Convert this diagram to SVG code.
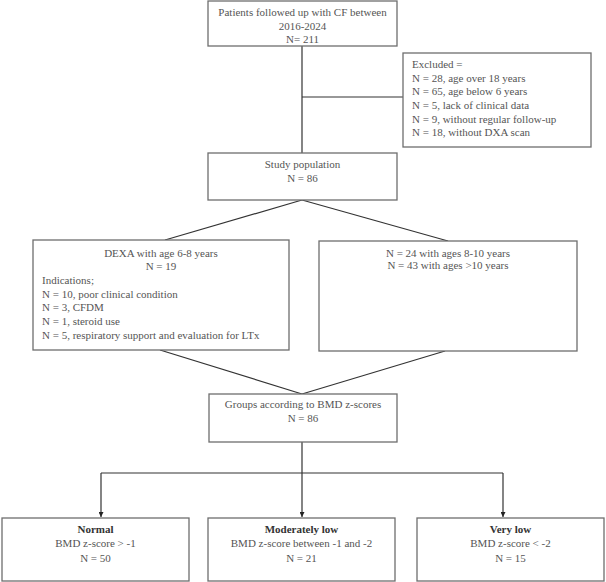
<svg xmlns="http://www.w3.org/2000/svg" width="606" height="582" viewBox="0 0 606 582">
<style>
.box{fill:#fff;stroke:#6e6e6e;stroke-width:1.3}
.t{font-family:"Liberation Serif","Times New Roman",serif;font-size:11px;fill:#555}
.c{text-anchor:middle}
.b{font-weight:bold;fill:#333}
.ln{fill:none;stroke:#333;stroke-width:1.2}
</style>
<defs>
<marker id="ah" viewBox="0 0 10 10" refX="10" refY="5" markerWidth="5" markerHeight="5" markerUnits="userSpaceOnUse" orient="auto">
<path d="M0,0 L10,5 L0,10 z" fill="#222"/>
</marker>
</defs>
<rect width="606" height="582" fill="#fff"/>
<g id="connectors">
<line class="ln" x1="302" y1="46" x2="302" y2="153"/>
<line class="ln" x1="302" y1="97" x2="403" y2="97"/>
<line class="ln" x1="302" y1="200" x2="165" y2="240"/>
<line class="ln" x1="302" y1="200" x2="448" y2="241"/>
<line class="ln" x1="160" y1="350" x2="302" y2="394"/>
<line class="ln" x1="445" y1="351" x2="302" y2="394"/>
<line class="ln" x1="302" y1="442" x2="302" y2="473"/>
<line class="ln" x1="101" y1="473" x2="503" y2="473"/>
<line class="ln" x1="101" y1="473" x2="101" y2="517" marker-end="url(#ah)"/>
<line class="ln" x1="302" y1="473" x2="302" y2="517" marker-end="url(#ah)"/>
<line class="ln" x1="503" y1="473" x2="503" y2="517" marker-end="url(#ah)"/>
</g>
<g id="n-patients">
<rect class="box" x="208" y="1" width="189" height="45"/>
<text class="t c" x="302.5" y="16">Patients followed up with CF between</text>
<text class="t c" x="302.5" y="30">2016-2024</text>
<text class="t c" x="302.5" y="43">N= 211</text>
</g>
<g id="n-excluded">
<rect class="box" x="403" y="53" width="188" height="94"/>
<text class="t" x="412" y="68">Excluded =</text>
<text class="t" x="412" y="81.5">N = 28, age over 18 years</text>
<text class="t" x="412" y="95">N = 65, age below 6 years</text>
<text class="t" x="412" y="109">N = 5, lack of clinical data</text>
<text class="t" x="412" y="123">N = 9, without regular follow-up</text>
<text class="t" x="412" y="136">N = 18, without DXA scan</text>
</g>
<g id="n-study">
<rect class="box" x="208" y="153" width="189" height="47"/>
<text class="t c" x="302.5" y="168">Study population</text>
<text class="t c" x="302.5" y="182">N = 86</text>
</g>
<g id="n-dexa">
<rect class="box" x="33" y="240" width="256" height="110"/>
<text class="t c" x="161" y="257">DEXA with age 6-8 years</text>
<text class="t c" x="161" y="270">N = 19</text>
<text class="t" x="42" y="284">Indications;</text>
<text class="t" x="42" y="297.5">N = 10, poor clinical condition</text>
<text class="t" x="42" y="311">N = 3, CFDM</text>
<text class="t" x="42" y="325">N = 1, steroid use</text>
<text class="t" x="42" y="339">N = 5, respiratory support and evaluation for LTx</text>
</g>
<g id="n-older">
<rect class="box" x="319" y="241" width="258" height="110"/>
<text class="t c" x="448" y="257">N = 24 with ages 8-10 years</text>
<text class="t c" x="448" y="269">N = 43 with ages &gt;10 years</text>
</g>
<g id="n-groups">
<rect class="box" x="209" y="394" width="188" height="48"/>
<text class="t c" x="303" y="408">Groups according to BMD z-scores</text>
<text class="t c" x="303" y="422">N = 86</text>
</g>
<g id="n-normal">
<rect class="box" x="2" y="518" width="187" height="63"/>
<text class="t c b" x="95.5" y="533">Normal</text>
<text class="t c" x="95.5" y="547">BMD z-score &gt; -1</text>
<text class="t c" x="95.5" y="562">N = 50</text>
</g>
<g id="n-moderate">
<rect class="box" x="208" y="518" width="187" height="63"/>
<text class="t c b" x="301.5" y="533">Moderately low</text>
<text class="t c" x="301.5" y="547">BMD z-score between -1 and -2</text>
<text class="t c" x="301.5" y="562">N = 21</text>
</g>
<g id="n-verylow">
<rect class="box" x="417" y="518" width="187" height="63"/>
<text class="t c b" x="510.5" y="533">Very low</text>
<text class="t c" x="510.5" y="547">BMD z-score &lt; -2</text>
<text class="t c" x="510.5" y="562">N = 15</text>
</g>
</svg>
